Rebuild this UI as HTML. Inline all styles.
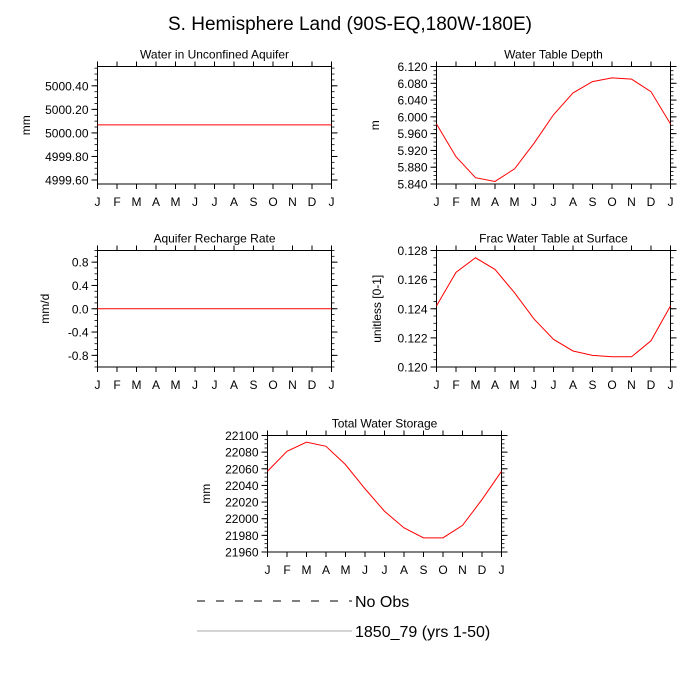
<!DOCTYPE html>
<html><head><meta charset="utf-8">
<style>
html,body{margin:0;padding:0;background:#fff;}
svg{display:block;font-family:"Liberation Sans",Arial,sans-serif;}
</style></head>
<body>
<svg id="chart" width="700" height="700" viewBox="0 0 700 700">
<text x="350" y="30" text-anchor="middle" font-size="19">S. Hemisphere Land (90S-EQ,180W-180E)</text>
<g id="panels"></g>
<g>
<line x1="197" y1="601" x2="352" y2="601" stroke="#000" stroke-width="1" stroke-dasharray="8,11"/>
<text x="355" y="607" font-size="16">No Obs</text>
<line x1="197" y1="631" x2="352" y2="631" stroke="#aaa" stroke-width="1"/>
<text x="355" y="637" font-size="16">1850_79 (yrs 1-50)</text>
</g>
</svg>
<script>
const months = ["J","F","M","A","M","J","J","A","S","O","N","D","J"];
const aquiferVals = [5000.068,5000.068,5000.068,5000.068,5000.068,5000.068,5000.068,5000.068,5000.068,5000.068,5000.068,5000.068,5000.068];
const aquiferTicks = [5000.40,5000.20,5000.00,4999.80,4999.60];
const wtdVals = [5.983,5.905,5.855,5.846,5.876,5.937,6.005,6.057,6.084,6.093,6.090,6.060,5.983];
const wtdTicks = [6.120,6.080,6.040,6.000,5.960,5.920,5.880,5.840];
const rechargeVals = [0,0,0,0,0,0,0,0,0,0,0,0,0];
const rechargeTicks = [0.8,0.4,0.0,-0.4,-0.8];
const fracVals = [0.1242,0.1265,0.1275,0.1267,0.1251,0.1233,0.1219,0.1211,0.1208,0.1207,0.1207,0.1218,0.1242];
const fracTicks = [0.128,0.126,0.124,0.122,0.120];
const twsVals = [22057,22081,22092,22087,22065,22036,22009,21989,21977,21977,21992,22023,22057];
const twsTicks = [22100,22080,22060,22040,22020,22000,21980,21960];

const NS="http://www.w3.org/2000/svg";
const root=document.getElementById('panels');
function mk(tag,attrs,parent){const e=document.createElementNS(NS,tag);for(const k in attrs)e.setAttribute(k,attrs[k]);parent.appendChild(e);return e;}

function panel(cfg){
  const g=mk('g',{},root);
  
  
  const {x0,x1,y0,y1,ymin,ymax}=cfg;
  const sx=i=>x0+(x1-x0)*i/12;
  const sy=v=>y1-(y1-y0)*(v-ymin)/(ymax-ymin);
  const box=mk('rect',{x:x0,y:y0,width:x1-x0,height:y1-y0,fill:'none',stroke:'#000','stroke-width':1},g);
  
  
  const t=mk('text',{x:(x0+x1)/2,y:y0-8,'text-anchor':'middle','font-size':12},g);
  t.textContent=cfg.title;
  
  
  for(let i=0;i<months.length;i++){
    const x=sx(i);
    mk('line',{x1:x,y1:y1,x2:x,y2:y1+5,stroke:'#000'},g);
    mk('line',{x1:x,y1:y0,x2:x,y2:y0-5,stroke:'#000'},g);
    const l=mk('text',{x:x,y:y1+22,'text-anchor':'middle','font-size':12},g);
    l.textContent=months[i];
    
    
  }
  const ticks=cfg.ticks;
  const step=Math.abs(ticks[0]-ticks[1]);
  const minor=step/cfg.minorN;
  for(let v=Math.ceil((ymin-1e-9)/minor)*minor; v<=ymax+1e-9; v+=minor){
    const y=sy(v);
    mk('line',{x1:x0,y1:y,x2:x0-3,y2:y,stroke:'#000','stroke-width':0.8},g);
    mk('line',{x1:x1,y1:y,x2:x1+3,y2:y,stroke:'#000','stroke-width':0.8},g);
  }
  ticks.forEach(v=>{
    const y=sy(v);
    mk('line',{x1:x0,y1:y,x2:x0-6,y2:y,stroke:'#000'},g);
    mk('line',{x1:x1,y1:y,x2:x1+6,y2:y,stroke:'#000'},g);
    const l=mk('text',{x:x0-9,y:y+4.5,'text-anchor':'end','font-size':12},g);
    l.textContent=v.toFixed(cfg.dec);
    
    
  });
  const yl=mk('text',{x:0,y:0,'text-anchor':'middle','font-size':12,transform:`translate(${cfg.ylx},${(y0+y1)/2}) rotate(-90)`},g);
  yl.textContent=cfg.ylabel;
  
  
  const pts=cfg.vals.map((v,i)=>sx(i)+','+sy(v)).join(' ');
  const p=mk('polyline',{points:pts,fill:'none',stroke:'#f00','stroke-width':1},g);
  
  
}

panel({name:'aquifer',title:'Water in Unconfined Aquifer',x0:97.5,x1:331.5,y0:66.5,y1:184,ymin:4999.566,ymax:5000.564,ticks:aquiferTicks,dec:2,minorN:4,vals:aquiferVals,ylabel:'mm',ylx:30});
panel({name:'water-table-depth',title:'Water Table Depth',x0:436.5,x1:670.5,y0:66.5,y1:184,ymin:5.840,ymax:6.120,ticks:wtdTicks,dec:3,minorN:4,vals:wtdVals,ylabel:'m',ylx:379});
panel({name:'recharge',title:'Aquifer Recharge Rate',x0:97.5,x1:331.5,y0:250.5,y1:367,ymin:-1,ymax:1,ticks:rechargeTicks,dec:1,minorN:4,vals:rechargeVals,ylabel:'mm/d',ylx:49});
panel({name:'frac-water-table',title:'Frac Water Table at Surface',x0:436.5,x1:670.5,y0:250.5,y1:367,ymin:0.120,ymax:0.128,ticks:fracTicks,dec:3,minorN:4,vals:fracVals,ylabel:'unitless [0-1]',ylx:381});
panel({name:'total-water-storage',title:'Total Water Storage',x0:267.5,x1:501.5,y0:435.5,y1:552,ymin:21960,ymax:22100,ticks:twsTicks,dec:0,minorN:4,vals:twsVals,ylabel:'mm',ylx:210});
</script>
</body></html>
